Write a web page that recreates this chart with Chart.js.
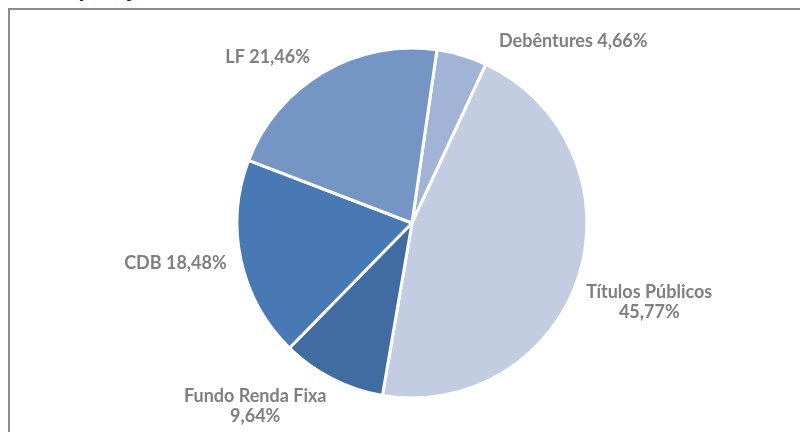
<!DOCTYPE html>
<html lang="pt">
<head>
  <meta charset="UTF-8">
  <title>Composição</title>
  <style>
    html, body { margin: 0; padding: 0; background: #fff; overflow: hidden; }
    #wrap { position: relative; width: 800px; height: 432px; }
    #titulo {
      position: absolute; left: 29px; top: -27px;
      font: bold 24px Lato, sans-serif; color: #222;
      white-space: nowrap;
    }
    #moldura {
      position: absolute; left: 8px; top: 8px; width: 800px; height: 440px;
      border-top: 2px solid #8c8c8c; border-left: 2px solid #8c8c8c;
    }
    #grafico { position: absolute; left: 0; top: 0; }
  </style>
  <script src="https://cdn.jsdelivr.net/npm/chart.js"></script>
</head>
<body>
  <div id="wrap">
    <div id="titulo">Composição</div>
    <div id="moldura"></div>
    <canvas id="grafico" width="800" height="432"></canvas>
  </div>

  <script>
    // Dados (ordem horária a partir do topo)
    const categorias = ['Debêntures', 'Títulos Públicos', 'Fundo Renda Fixa', 'CDB', 'LF'];
    const percentuais = [4.66, 45.77, 9.64, 18.48, 21.46];
    const cores = ['#a1b4d6', '#c3cde1', '#416ca2', '#4879b4', '#7596c5'];

    // rótulos: quebra de linha, deslocamento angular (graus) e distância do centro
    const layoutRotulos = [
      { quebra: false, dAng: 25, dist: 243 },
      { quebra: true, dAng: 1, dist: 250 },
      { quebra: true, dAng: 13.5, dist: 241 },
      { quebra: false, dAng: 2.6, dist: 240 },
      { quebra: false, dAng: -10.6, dist: 220 }
    ];

    const fmt = v => v.toFixed(2).replace('.', ',') + '%';

    const rotulosPlugin = {
      id: 'rotulos',
      afterDatasetsDraw(chart) {
        const ctx = chart.ctx;
        const arcs = chart.getDatasetMeta(0).data;
        ctx.save();
        ctx.font = 'bold 18px Lato, sans-serif';
        ctx.fillStyle = '#7f7f7f';
        ctx.textAlign = 'center';
        ctx.textBaseline = 'middle';
        arcs.forEach((arc, i) => {
          const lay = layoutRotulos[i];
          const meio = (arc.startAngle + arc.endAngle) / 2 + lay.dAng * Math.PI / 180;
          const x = arc.x + Math.cos(meio) * lay.dist;
          const y = arc.y + Math.sin(meio) * lay.dist;
          const linhas = lay.quebra
            ? [categorias[i], fmt(percentuais[i])]
            : [categorias[i] + ' ' + fmt(percentuais[i])];
          const h = 20;
          linhas.forEach((t, k) => {
            ctx.fillText(t, x, y + (k - (linhas.length - 1) / 2) * h);
          });
        });
        ctx.restore();
      }
    };

    new Chart(document.getElementById('grafico'), {
      type: 'pie',
      data: {
        labels: categorias,
        datasets: [{
          data: percentuais,
          backgroundColor: cores,
          borderColor: '#ffffff',
          borderWidth: 3
        }]
      },
      options: {
        responsive: false,
        animation: false,
        rotation: 8.2,
        layout: { padding: { left: 24, right: 0, top: 46.5, bottom: 32.5 } },
        plugins: {
          legend: { display: false },
          tooltip: { enabled: false }
        }
      },
      plugins: [rotulosPlugin]
    });
  </script>
</body>
</html>
